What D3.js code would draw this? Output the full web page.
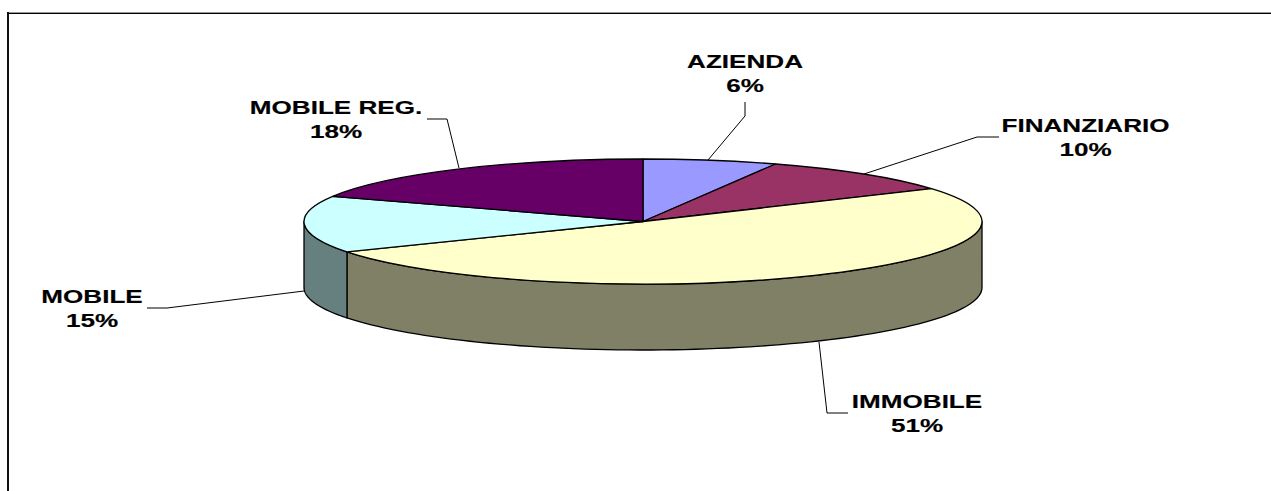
<!DOCTYPE html>
<html>
<head>
<meta charset="utf-8">
<script src="https://cdn.jsdelivr.net/npm/d3@7/dist/d3.min.js"></script>
<style>
html,body{margin:0;padding:0;background:#fff;overflow:hidden}
svg{display:block}
text{font-family:"Liberation Sans",Arial,sans-serif;font-weight:bold;font-size:18.5px;fill:#000;stroke:#000;stroke-width:0.15px}
</style>
</head>
<body>
<svg id="chart" width="1271" height="491"></svg>
<script>
const categories = ["AZIENDA", "FINANZIARIO", "IMMOBILE", "MOBILE", "MOBILE REG."];
const values = [6.4, 9.8, 50.7, 14.7, 18.4];
const topColors = ["#9999ff", "#993366", "#ffffcc", "#ccffff", "#660066"];
const sideColors = ["#666699", "#66334d", "#808066", "#668080", "#4d004d"];

// Layout (not data)
const W = 1271, H = 491;
const cx = 643, cy = 221.5, rx = 339, ry = 62.5, depth = 66;
const leaders = [
  [[708,160],[745,116],[745,102]],
  [[864,174],[977,137],[999,137]],
  [[819,342],[827,413],[848,413]],
  [[304,291],[167,308],[147,308]],
  [[459,168],[447,119],[427,119]]
];
const labelPos = [[745,68],[1085.5,132],[917,408],[92,303],[336,114]];
const stretch = 1.41, lineGap = 24.5;

const svg = d3.select("#chart");
const pct = d3.format(".0f");

// Partial frame: left and top edges only
svg.append("line").attr("x1", 8).attr("x2", W).attr("y1", 12.5).attr("y2", 12.5).attr("stroke", "#999");
svg.append("line").attr("x1", 8).attr("x2", W).attr("y1", 13.5).attr("y2", 13.5).attr("stroke", "#000");
svg.append("line").attr("x1", 8).attr("x2", 8).attr("y1", 12).attr("y2", H).attr("stroke", "#111").attr("stroke-width", 2);

const pie = d3.pie().sort(null).value(d => d);
const arcs = pie(values);

const px = a => cx + rx * Math.sin(a);
const py = a => cy - ry * Math.cos(a);

// Side walls: only the front half of the ellipse (angles PI/2 .. 3PI/2)
const wallLine = d3.line();
function wallPath(a0, a1) {
  const s = Math.max(a0, Math.PI / 2), e = Math.min(a1, 3 * Math.PI / 2);
  if (e <= s) return null;
  const angles = d3.range(0, 81).map(i => s + (e - s) * i / 80);
  const upper = angles.map(a => [px(a), py(a)]);
  const lower = angles.slice().reverse().map(a => [px(a), py(a) + depth]);
  return wallLine(upper.concat(lower)) + "Z";
}

svg.append("g").selectAll("path")
  .data(arcs.map((d, i) => ({d: wallPath(d.startAngle, d.endAngle), i})).filter(o => o.d))
  .join("path")
  .attr("d", o => o.d)
  .attr("fill", o => sideColors[o.i])
  .attr("stroke", "#000").attr("stroke-width", 1.3).attr("stroke-linejoin", "round");

const arc = d3.arc().innerRadius(0).outerRadius(rx);
svg.append("g")
  .attr("transform", `translate(${cx},${cy}) scale(1,${ry / rx})`)
  .selectAll("path").data(arcs).join("path")
  .attr("d", arc)
  .attr("fill", (d, i) => topColors[i])
  .attr("stroke", "#000").attr("stroke-width", 1.3)
  .attr("vector-effect", "non-scaling-stroke")
  .attr("stroke-linejoin", "round");

svg.append("g").selectAll("path").data(leaders).join("path")
  .attr("d", d3.line())
  .attr("fill", "none").attr("stroke", "#000").attr("stroke-width", 1);

const labels = svg.append("g").selectAll("g").data(categories).join("g")
  .attr("transform", (d, i) => `translate(${labelPos[i][0]},${labelPos[i][1]}) scale(${stretch},1)`);
labels.append("text").attr("text-anchor", "middle").text(d => d);
labels.append("text").attr("text-anchor", "middle").attr("y", lineGap)
  .text((d, i) => pct(values[i]) + "%");
</script>
</body>
</html>
